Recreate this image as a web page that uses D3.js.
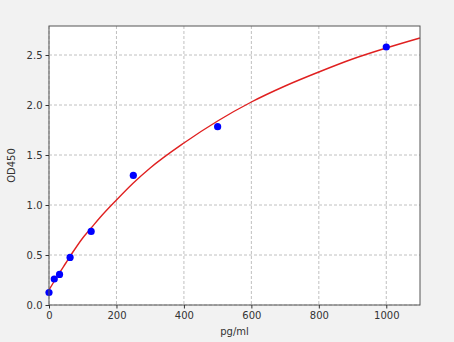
<!DOCTYPE html>
<html>
<head>
<meta charset="utf-8">
<script src="https://cdn.jsdelivr.net/npm/d3@7"></script>
<style>
  html, body { margin: 0; padding: 0; background: #f2f2f2; }
  svg { display: block; font-family: "DejaVu Sans", sans-serif; }
</style>
</head>
<body>
<div id="chart"></div>
<script>
// standard points (concentration pg/ml vs OD450)
const stdConc = [0, 15.6, 31.25, 62.5, 125, 250, 500, 1000];
const stdOD = [0.125, 0.26, 0.306, 0.476, 0.736, 1.296, 1.783, 2.58];

// fitted curve
const fitConc = [0, 25, 50, 75, 100, 125, 150, 200, 250, 300, 400, 500, 600, 700, 800, 900, 1000, 1100];
const fitOD = [0.15, 0.29, 0.42, 0.55, 0.67, 0.77, 0.87, 1.05, 1.22, 1.37, 1.62, 1.84, 2.03, 2.19, 2.33, 2.46, 2.57, 2.67];

const xTicks = [0, 200, 400, 600, 800, 1000];
const yTicks = [0.0, 0.5, 1.0, 1.5, 2.0, 2.5];

const W = 454, H = 342;
const margin = {top: 26, right: 34, bottom: 37, left: 49};
const width = W - margin.left - margin.right;
const height = H - margin.top - margin.bottom;

const svg = d3.select("#chart")
  .append("svg")
    .attr("width", W)
    .attr("height", H);

const g = svg.append("g")
  .attr("transform", `translate(${margin.left},${margin.top})`);

const x = d3.scaleLinear().domain([0, 1100]).range([0, width]);
const y = d3.scaleLinear().domain([0, 2.79]).range([height, 0]);

// plot background
g.append("rect")
  .attr("width", width)
  .attr("height", height)
  .attr("fill", "#fff");

// grid
g.append("g")
  .selectAll("line")
  .data(xTicks)
  .join("line")
    .attr("x1", d => x(d)).attr("x2", d => x(d))
    .attr("y1", 0).attr("y2", height)
    .attr("stroke", "#b0b0b0")
    .attr("stroke-width", 0.8)
    .attr("stroke-dasharray", "3,2");

g.append("g")
  .selectAll("line")
  .data(yTicks)
  .join("line")
    .attr("x1", 0).attr("x2", width)
    .attr("y1", d => y(d)).attr("y2", d => y(d))
    .attr("stroke", "#b0b0b0")
    .attr("stroke-width", 0.8)
    .attr("stroke-dasharray", "3,2");

// fitted line
const fit = fitConc.map((c, i) => [c, fitOD[i]]);
g.append("path")
  .datum(fit)
  .attr("fill", "none")
  .attr("stroke", "#e02020")
  .attr("stroke-width", 1.4)
  .attr("d", d3.line()
    .x(d => x(d[0]))
    .y(d => y(d[1]))
    .curve(d3.curveMonotoneX));

// points
g.append("g")
  .selectAll("circle")
  .data(stdConc.map((c, i) => [c, stdOD[i]]))
  .join("circle")
    .attr("cx", d => x(d[0]))
    .attr("cy", d => y(d[1]))
    .attr("r", 3.6)
    .attr("fill", "#0000ff");

// frame
g.append("rect")
  .attr("width", width)
  .attr("height", height)
  .attr("fill", "none")
  .attr("stroke", "#555")
  .attr("stroke-width", 1);

// axes
const xAxis = g.append("g")
  .attr("transform", `translate(0,${height})`)
  .call(d3.axisBottom(x).tickValues(xTicks).tickSize(3.5).tickPadding(3).tickFormat(d3.format("d")));
const yAxis = g.append("g")
  .call(d3.axisLeft(y).tickValues(yTicks).tickSize(3.5).tickPadding(3).tickFormat(d3.format(".1f")));

[xAxis, yAxis].forEach(a => {
  a.select(".domain").remove();
  a.selectAll(".tick line").attr("stroke", "#333");
  a.selectAll(".tick text")
    .attr("fill", "#333")
    .style("font-size", "10px")
    .style("font-family", "'DejaVu Sans', sans-serif");
});

// axis labels
svg.append("text")
  .attr("x", margin.left + width / 2)
  .attr("y", 335)
  .attr("text-anchor", "middle")
  .attr("fill", "#333")
  .style("font-size", "10px")
  .text("pg/ml");

svg.append("text")
  .attr("transform", `translate(15,${margin.top + height / 2}) rotate(-90)`)
  .attr("text-anchor", "middle")
  .attr("fill", "#333")
  .style("font-size", "10px")
  .text("OD450");
</script>
</body>
</html>
